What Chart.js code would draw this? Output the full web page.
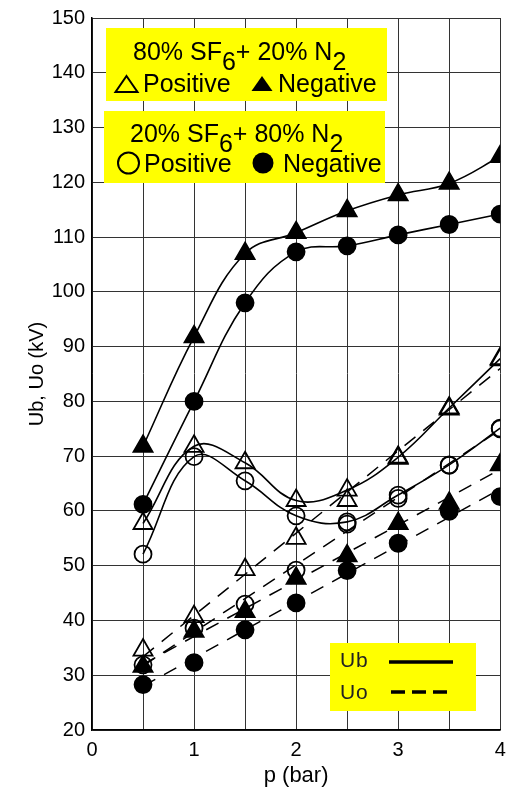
<!DOCTYPE html>
<html>
<head>
<meta charset="utf-8">
<script src="https://cdn.jsdelivr.net/npm/chart.js@4.4.0/dist/chart.umd.min.js"></script>
<style>
  body { margin: 0; background: #fff; }
  #wrap { width: 513px; height: 794px; }
</style>
</head>
<body>
<div id="wrap"><canvas id="chart" width="513" height="794"></canvas></div>
<script>
// Pressure (bar)
const pressure = [0.5, 1, 1.5, 2, 2.5, 3, 3.5, 4];

// 80% SF6 + 20% N2 (triangles)
const ubTriPos = [57.7, 71.8, 68.8, 61.9, 63.8, 69.8, 78.8, 87.8];
const uoTriPos = [34.6, 40.7, 49.3, 55.0, 61.9, 69.6, 78.6, 87.6];
const ubTriNeg = [71.8, 91.8, 107.0, 110.8, 114.8, 117.7, 119.8, 124.7];
const uoTriNeg = [31.6, 38.0, 41.6, 47.7, 51.8, 57.7, 61.4, 68.4];

// 20% SF6 + 80% N2 (circles)
const ubCirPos = [52.1, 69.9, 65.5, 59.1, 58.0, 62.9, 68.4, 75.1];
const uoCirPos = [31.9, 38.6, 43.0, 49.2, 57.6, 62.3, 68.3, 75.0];
const ubCirNeg = [61.2, 80.0, 98.0, 107.3, 108.4, 110.4, 112.3, 114.2];
const uoCirNeg = [28.3, 32.3, 38.3, 43.2, 49.1, 54.1, 59.9, 62.6];

// dashed Uo trend lines, end points
const trendX = [0.5, 4];
const trendTriPos = [33.4, 86.0];
const trendCirPos = [31.7, 74.8];
const trendTriNeg = [32.0, 67.6];
const trendCirNeg = [28.0, 64.0];

// axis ticks
const xTicks = [0, 1, 2, 3, 4];
const yMin = 20, yMax = 150, yStep = 10;

const FONT = "'Liberation Sans', Arial, sans-serif";

function pts(xs, ys) {
    return xs.map((x, i) => ({ x: x, y: ys[i] }));
}

function markerSet(ys, style, filled, line) {
    return {
        data: pts(pressure, ys),
        showLine: line,
        borderColor: '#000',
        borderWidth: 1.6,
        tension: 0.4,
        pointStyle: style,
        pointRadius: style === 'triangle' ? 11 : 8.5,
        pointBorderWidth: 1.8,
        pointBorderColor: '#000',
        pointBackgroundColor: filled ? '#000' : 'rgba(0,0,0,0)',
        backgroundColor: filled ? '#000' : 'rgba(0,0,0,0)'
    };
}

function trendSet(ys) {
    return {
        data: pts(trendX, ys),
        showLine: true,
        borderColor: '#000',
        borderWidth: 1.5,
        borderDash: [14, 10],
        pointRadius: 0
    };
}

// yellow legend boxes
const legendBoxes = {
    id: 'legendBoxes',
    afterDraw(chart) {
        const ctx = chart.ctx;
        ctx.save();

        function sub(parts, x, y) {
            // parts: [text, isSub]
            parts.forEach(p => {
                ctx.fillText(p[0], x, p[1] ? y + 10 : y);
                x += ctx.measureText(p[0]).width;
            });
        }
        function tri(cx, top, w, h, filled) {
            ctx.beginPath();
            ctx.moveTo(cx, top);
            ctx.lineTo(cx + w / 2, top + h);
            ctx.lineTo(cx - w / 2, top + h);
            ctx.closePath();
            if (filled) ctx.fill(); else ctx.stroke();
        }
        function circ(cx, cy, r, filled) {
            ctx.beginPath();
            ctx.arc(cx, cy, r, 0, Math.PI * 2);
            if (filled) ctx.fill(); else ctx.stroke();
        }

        ctx.fillStyle = '#ffff00';
        ctx.fillRect(106, 28, 281, 73);
        ctx.fillRect(104, 111, 281, 72);
        ctx.fillRect(330, 643, 146, 68);

        ctx.fillStyle = '#000';
        ctx.strokeStyle = '#000';
        ctx.lineWidth = 2;
        ctx.font = '25px ' + FONT;
        ctx.textBaseline = 'alphabetic';
        ctx.textAlign = 'left';

        sub([['80% SF', false], ['6', true], ['+ 20% N', false], ['2', true]], 133, 60);
        tri(126.5, 76, 22, 16, false);
        ctx.fillText('Positive', 143, 92);
        tri(262, 76, 21, 15, true);
        ctx.fillText('Negative', 278, 92);

        sub([['20% SF', false], ['6', true], ['+ 80% N', false], ['2', true]], 130, 142);
        circ(128.5, 163, 10.5, false);
        ctx.fillText('Positive', 144, 172);
        circ(263, 163, 10.5, true);
        ctx.fillText('Negative', 283, 172);

        ctx.font = '21px ' + FONT;
        ctx.fillStyle = '#222';
        ctx.fillText('U', 340, 667);
        ctx.fillText('b', 356, 667);
        ctx.fillText('U', 340, 699);
        ctx.fillText('o', 356, 699);

        ctx.lineWidth = 3.3;
        ctx.beginPath();
        ctx.moveTo(389, 662);
        ctx.lineTo(453, 662);
        ctx.stroke();
        ctx.setLineDash([14, 7]);
        ctx.beginPath();
        ctx.moveTo(391, 692);
        ctx.lineTo(449, 692);
        ctx.stroke();

        ctx.restore();
    }
};

new Chart(document.getElementById('chart'), {
    type: 'scatter',
    data: {
        datasets: [
            markerSet(ubTriNeg, 'triangle', true, true),
            markerSet(ubCirNeg, 'circle', true, true),
            markerSet(uoTriNeg, 'triangle', true, false),
            markerSet(uoCirNeg, 'circle', true, false),
            markerSet(ubTriPos, 'triangle', false, true),
            markerSet(ubCirPos, 'circle', false, true),
            markerSet(uoTriPos, 'triangle', false, false),
            markerSet(uoCirPos, 'circle', false, false),
            trendSet(trendTriPos),
            trendSet(trendCirPos),
            trendSet(trendTriNeg),
            trendSet(trendCirNeg)
        ]
    },
    options: {
        responsive: false,
        animation: false,
        layout: { padding: { top: 18, right: 8, left: 0, bottom: 0 } },
        plugins: {
            legend: { display: false },
            tooltip: { enabled: false }
        },
        scales: {
            x: {
                type: 'linear',
                min: 0,
                max: 4,
                afterFit: s => {
                    s.height = 64;
                    s.paddingLeft = 0;
                    s.paddingRight = 0;
                },
                border: { color: '#000', width: 1.5 },
                grid: { color: '#333', lineWidth: 1, drawTicks: false },
                ticks: {
                    stepSize: 0.5,
                    padding: 8,
                    color: '#000',
                    font: { family: FONT, size: 20 },
                    callback: v => xTicks.includes(v) ? String(v) : ''
                },
                title: {
                    display: true,
                    text: 'p (bar)',
                    color: '#000',
                    font: { family: FONT, size: 22 },
                    padding: { top: 0, bottom: 5 }
                }
            },
            y: {
                min: yMin,
                max: yMax,
                afterFit: s => {
                    s.width = 92;
                    s.paddingTop = 0;
                    s.paddingBottom = 0;
                },
                border: { color: '#000', width: 1.5 },
                grid: { color: '#333', lineWidth: 1, drawTicks: false },
                ticks: {
                    stepSize: yStep,
                    padding: 7,
                    color: '#000',
                    font: { family: FONT, size: 20 }
                },
                title: {
                    display: true,
                    text: 'Ub, Uo (kV)',
                    color: '#000',
                    font: { family: FONT, size: 20 },
                    padding: { top: 25, bottom: 0 }
                }
            }
        }
    },
    plugins: [legendBoxes]
});
</script>
</body>
</html>
